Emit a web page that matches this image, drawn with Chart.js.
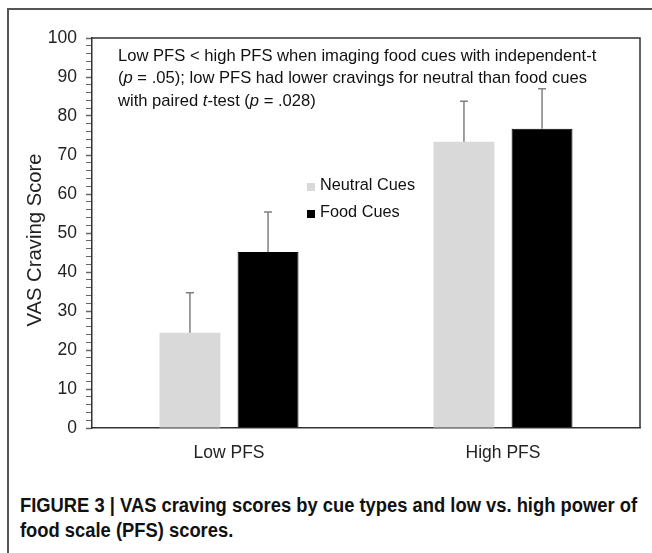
<!DOCTYPE html>
<html lang="en">
<head>
    <meta charset="UTF-8">
    <title>VAS Craving Score</title>
    <script src="https://cdn.jsdelivr.net/npm/chart.js"></script>
    <style>
        body {
            margin: 0;
            background: #fff;
            font-family: Arial, 'Liberation Sans', sans-serif;
        }
        #wrap {
            position: relative;
            width: 652px;
            height: 553px;
            overflow: hidden;
        }
        #frame {
            position: absolute;
            left: 7px;
            top: 8px;
            width: 700px;
            height: 600px;
            border-top: 2px solid #555;
            border-left: 2px solid #555;
        }
        #chartBox {
            position: absolute;
            left: 0;
            top: 0;
            width: 652px;
            height: 470px;
        }
        #caption {
            position: absolute;
            left: 20px;
            top: 493px;
            font-family: Arial, 'Liberation Sans', sans-serif;
            font-weight: bold;
            font-size: 20px;
            line-height: 25px;
            color: #111;
        }
        #caption div {
            white-space: nowrap;
            transform-origin: 0 0;
        }
    </style>
</head>
<body>
<div id="wrap">
    <div id="frame"></div>
    <div id="chartBox"><canvas id="cravingChart"></canvas></div>
    <div id="caption">
        <div id="cap1">FIGURE 3 | VAS craving scores by cue types and low vs. high power of</div>
        <div id="cap2">food scale (PFS) scores.</div>
    </div>
</div>

<script>
    // data
    const groups = ['Low PFS', 'High PFS'];
    const neutralCues = [24.4, 73.4];
    const foodCues = [45.1, 76.7];
    const neutralErr = [10.3, 10.4];
    const foodErr = [10.3, 10.3];
    const seriesNames = ['Neutral Cues', 'Food Cues'];

    const FONT = "Arial, 'Liberation Sans', sans-serif";

    // squeeze caption to look like the condensed journal font
    const cap1 = document.getElementById('cap1');
    const sx = 617 / cap1.getBoundingClientRect().width;
    document.querySelectorAll('#caption div').forEach(d => {
        d.style.transform = 'scaleX(' + sx + ')';
    });

    // error bars (upper half only, like the original)
    const errorBars = {
        id: 'errorBars',
        afterDatasetsDraw(chart) {
            const ctx = chart.ctx;
            const y = chart.scales.y;
            const errs = [neutralErr, foodErr];
            ctx.save();
            ctx.strokeStyle = '#808080';
            ctx.lineWidth = 1.5;
            chart.data.datasets.forEach((ds, di) => {
                const meta = chart.getDatasetMeta(di);
                meta.data.forEach((bar, i) => {
                    const top = y.getPixelForValue(ds.data[i] + errs[di][i]);
                    ctx.beginPath();
                    ctx.moveTo(bar.x, bar.y);
                    ctx.lineTo(bar.x, top);
                    ctx.moveTo(bar.x - 4, top);
                    ctx.lineTo(bar.x + 4, top);
                    ctx.stroke();
                });
            });
            ctx.restore();
        }
    };

    // note text, legend and axis title
    const notes = {
        id: 'notes',
        afterDraw(chart) {
            const ctx = chart.ctx;
            const lines = [
                [['Low PFS < high PFS when imaging food cues with independent-t', false]],
                [['(', false], ['p', true], [' = .05); low PFS had lower cravings for neutral than food cues', false]],
                [['with paired ', false], ['t', true], ['-test (', false], ['p', true], [' = .028)', false]]
            ];
            ctx.save();
            ctx.fillStyle = '#111';
            ctx.textBaseline = 'middle';
            lines.forEach((parts, li) => {
                let x = 118;
                const yy = 56 + li * 22.5;
                parts.forEach(([txt, it]) => {
                    ctx.font = (it ? 'italic ' : '') + '16.6px ' + FONT;
                    ctx.fillText(txt, x, yy);
                    x += ctx.measureText(txt).width;
                });
            });

            // legend
            const colors = ['#d9d9d9', '#000'];
            ctx.font = '16.3px ' + FONT;
            seriesNames.forEach((name, i) => {
                const yy = 186 + i * 27;
                ctx.fillStyle = colors[i];
                ctx.fillRect(307, yy - 3, 8, 8);
                ctx.fillStyle = '#111';
                ctx.fillText(name, 320, yy);
            });

            // y axis title
            ctx.translate(35, 240);
            ctx.rotate(-Math.PI / 2);
            ctx.textAlign = 'center';
            ctx.fillStyle = '#222';
            ctx.font = '20.3px ' + FONT;
            ctx.fillText('VAS Craving Score', 0, 0);
            ctx.restore();
        }
    };

    // box around the plot area (top + right)
    const plotBox = {
        id: 'plotBox',
        beforeDatasetsDraw(chart) {
            const a = chart.chartArea;
            const ctx = chart.ctx;
            ctx.save();
            ctx.strokeStyle = '#333';
            ctx.lineWidth = 1.5;
            ctx.beginPath();
            ctx.moveTo(a.left, a.top);
            ctx.lineTo(a.right, a.top);
            ctx.lineTo(a.right, a.bottom);
            ctx.stroke();
            ctx.restore();
        }
    };

    const ctx = document.getElementById('cravingChart').getContext('2d');

    new Chart(ctx, {
        type: 'bar',
        data: {
            labels: groups,
            datasets: [
                {
                    label: seriesNames[0],
                    data: neutralCues,
                    backgroundColor: '#d9d9d9',
                    borderWidth: 0
                },
                {
                    label: seriesNames[1],
                    data: foodCues,
                    backgroundColor: '#000',
                    borderColor: '#000',
                    borderWidth: 1
                }
            ]
        },
        options: {
            responsive: true,
            maintainAspectRatio: false,
            animation: false,
            layout: { padding: { top: 38, right: 12, left: 0, bottom: 0 } },
            datasets: {
                bar: { categoryPercentage: 0.57, barPercentage: 0.78 }
            },
            scales: {
                x: {
                    grid: { display: false },
                    border: { display: true, color: '#333', width: 1.5 },
                    ticks: { color: '#222', font: { family: FONT, size: 17.5 }, padding: 7 },
                    afterFit: (s) => { s.height = 42; }
                },
                y: {
                    min: 0,
                    max: 100,
                    ticks: {
                        stepSize: 2,
                        autoSkip: false,
                        padding: 9,
                        color: '#222',
                        font: { family: FONT, size: 17.5 },
                        callback: (v) => v % 10 === 0 ? v : ''
                    },
                    grid: {
                        drawOnChartArea: false,
                        drawTicks: true,
                        tickLength: 6,
                        tickColor: '#666',
                        tickWidth: (c) => c.tick && c.tick.value % 10 === 0 ? 1.5 : 1
                    },
                    border: { display: true, color: '#333', width: 1.5 },
                    afterFit: (s) => { s.width = 92; }
                }
            },
            plugins: {
                legend: { display: false },
                tooltip: { enabled: false }
            }
        },
        plugins: [plotBox, errorBars, notes]
    });
</script>
</body>
</html>
